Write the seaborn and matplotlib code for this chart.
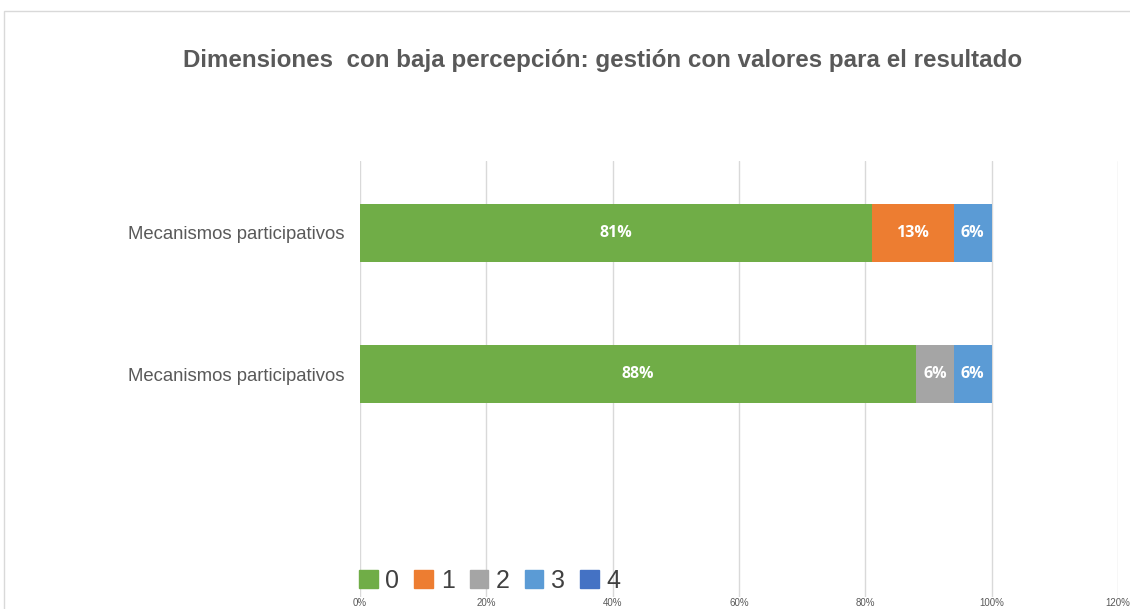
import numpy as np
import pandas as pd
import seaborn as sns
import matplotlib.pyplot as plt
from matplotlib.patches import Patch, Rectangle

# data
categories = ["Mecanismos participativos", "Mecanismos participativos"]
series_names = ["0", "1", "2", "3", "4"]
val_0 = [0.81, 0.88]
val_1 = [0.13, 0.00]
val_2 = [0.00, 0.06]
val_3 = [0.06, 0.06]
val_4 = [0.00, 0.00]
colors = ["#70AD47", "#ED7D31", "#A5A5A5", "#5B9BD5", "#4472C4"]
x_ticks = [0, 0.2, 0.4, 0.6, 0.8, 1.0, 1.2]

sns.set_style("white")
plt.rcParams['font.family'] = ['Liberation Sans', 'DejaVu Sans']

values = np.array([val_0, val_1, val_2, val_3, val_4])
cum = np.cumsum(values, axis=0)

df = pd.DataFrame({"row": range(len(categories))})
for i, name in enumerate(series_names):
    df["cum_" + name] = cum[i]

fig = plt.figure(figsize=(11.3, 6.09), dpi=100)
ax = fig.add_axes([0.3186, 0.0197, 0.6708, 0.7159])

# stack by drawing cumulative totals from the last series to the first
for i in reversed(range(len(series_names))):
    sns.barplot(data=df, x="cum_" + series_names[i], y="row", orient="h",
                color=colors[i], width=0.41, saturation=1, linewidth=0,
                ax=ax, zorder=3)

# segment labels
for i in range(len(series_names)):
    for r in range(len(categories)):
        v = values[i, r]
        if v > 0:
            center = cum[i, r] - v / 2
            ax.text(center, r, f"{v:.0%}", ha="center", va="center",
                    color="white", fontsize=11.5, fontweight="bold",
                    family="Open Sans", zorder=5)

ax.set_xlim(0, 1.2)
ax.set_ylim(2.58, -0.51)
ax.set_xticks(x_ticks)
ax.set_xticklabels([f"{t:.0%}" for t in x_ticks], fontsize=7, color="#595959")
ax.set_yticks(range(len(categories)))
ax.set_yticklabels(categories, fontsize=13.3, color="#595959")
ax.tick_params(axis="x", length=0, pad=1)
ax.tick_params(axis="y", length=0, pad=11)
ax.set_xlabel("")
ax.set_ylabel("")
ax.grid(axis="x", color="#d9d9d9", linewidth=1, zorder=0)
for s in ax.spines.values():
    s.set_visible(False)

# legend
handles = [Patch(facecolor=c, edgecolor=c) for c in colors]
fig.legend(handles, series_names, loc="center left", bbox_to_anchor=(0.298, 0.046),
           ncol=5, frameon=False, fontsize=18, handlelength=0.75, handleheight=0.75,
           handletextpad=0.3, columnspacing=0.6, labelcolor="#404040")

fig.text(0.533, 0.901, "Dimensiones  con baja percepción: gestión con valores para el resultado",
         ha="center", va="center", fontsize=17.4, fontweight="bold", color="#595959")

# chart area border
fig.add_artist(Rectangle((4 / 1130, -0.1), 1.2, 1 - 11 / 609 + 0.1, transform=fig.transFigure,
                         fill=False, edgecolor="#d9d9d9", linewidth=1))

fig.savefig("out.png", dpi=100)
